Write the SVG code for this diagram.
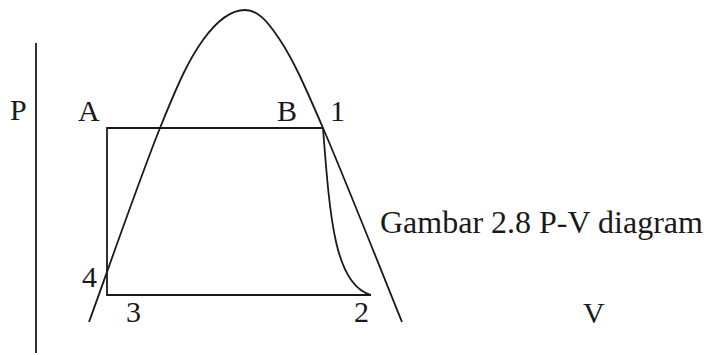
<svg xmlns="http://www.w3.org/2000/svg" width="707" height="355" viewBox="0 0 707 355">
<style>
.ln{fill:none;stroke:#1a1a1a;stroke-width:1.8;stroke-linejoin:miter}
.t{font-family:"Liberation Serif","Times New Roman",serif;font-size:30px;fill:#1a1a1a}
.cap{font-family:"Liberation Serif","Times New Roman",serif;font-size:32px;fill:#1a1a1a}
</style>
<rect width="707" height="355" fill="#fff"/>
<g id="connectors">
<line class="ln" x1="36" y1="43" x2="36" y2="353"/>
<path id="cycle" class="ln" d="M371,295 H107 V128 H323"/>
<path id="dome" class="ln" d="M89,322 C109,267 141,175 160,128 C179,81 188.8,59.7 203,40 C217.2,20.3 232.2,10 245,10 C257.8,10 267,20.3 280,40 C293,59.7 302.7,81 323,128 C343.3,175 381,270 402,322"/>
<path id="expansion" class="ln" d="M323,128 C330,220 335,285 371,295"/>
</g>
<g id="label-P"><text class="t" x="10" y="120">P</text></g>
<g id="label-A"><text class="t" x="78" y="121">A</text></g>
<g id="label-B"><text class="t" x="277" y="121">B</text></g>
<g id="label-1"><text class="t" x="330" y="121">1</text></g>
<g id="label-4"><text class="t" x="82" y="287">4</text></g>
<g id="label-3"><text class="t" x="126" y="322">3</text></g>
<g id="label-2"><text class="t" x="354" y="322">2</text></g>
<g id="label-V"><text class="t" x="583" y="323">V</text></g>
<g id="caption"><text class="cap" x="380" y="233">Gambar 2.8 P-V diagram</text></g>
</svg>
